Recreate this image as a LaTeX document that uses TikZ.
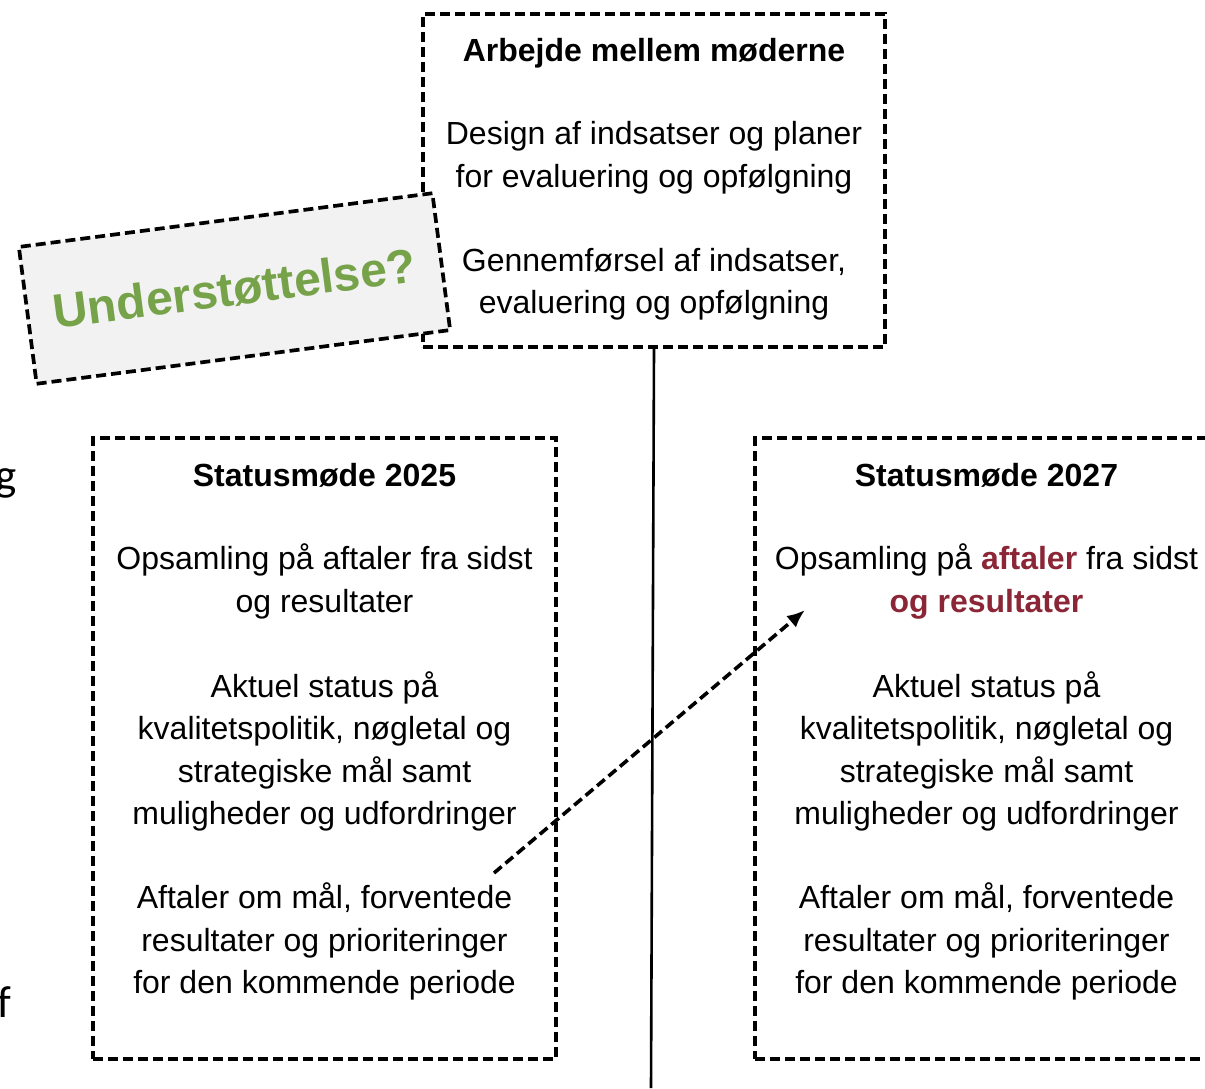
\documentclass[tikz,border=0pt]{standalone}
\usepackage{fontspec}
\setmainfont{Liberation Sans}
\newfontfamily\calibfont{Carlito}
\usetikzlibrary{arrows.meta}
\definecolor{accgreen}{HTML}{76A24A}
\definecolor{accred}{HTML}{8B2636}
\definecolor{boxgray}{HTML}{F2F2F2}
\begin{document}
\begin{tikzpicture}[x=1pt,y=-1pt,
  dbox/.style={draw=black,line width=3.7pt,dash pattern=on 10pt off 5pt,inner sep=0pt},
  txt/.style={font=\fontsize{32}{42.4}\selectfont,inner sep=0pt,anchor=base},
  cut/.style={font=\calibfont\fontsize{45}{50}\selectfont,inner sep=0pt,anchor=base east},
  link/.style={line width=2.6pt},
  dasharrow/.style={line width=3.6pt,dash pattern=on 10pt off 5pt,-{Latex[length=18pt,width=15pt]}}
]
\useasboundingbox (0,0) rectangle (1205,1088);

% boxes
\node[dbox,minimum width=462pt,minimum height=333pt] (topbox) at (654,180.5) {};
\node[dbox,minimum width=463pt,minimum height=621pt] (leftbox) at (324.5,748.5) {};
\node[dbox,minimum width=463pt,minimum height=621pt] (rightbox) at (986.5,748.5) {};

% vertical connector
\coordinate (lineend) at (651,1088);
\draw[link] (topbox.south) -- (lineend);

% top box text
\foreach \yy/\tt [count=\i] in {
  61/{\textbf{Arbejde mellem møderne}},
  144/{Design af indsatser og planer},
  187/{for evaluering og opfølgning},
  271/{Gennemførsel af indsatser,},
  313/{evaluering og opfølgning}}
  \node[txt] (top\i) at (654,\yy) {\tt};

% left box text
\foreach \yy/\tt [count=\i] in {
  486/{\textbf{Statusmøde 2025}},
  569/{Opsamling på aftaler fra sidst},
  612/{og resultater},
  697/{Aktuel status på},
  739/{kvalitetspolitik, nøgletal og},
  782/{strategiske mål samt},
  824/{muligheder og udfordringer},
  908/{Aftaler om mål, forventede},
  951/{resultater og prioriteringer},
  993/{for den kommende periode}}
  \node[txt] (left\i) at (324.5,\yy) {\tt};

% right box text
\foreach \yy/\tt [count=\i] in {
  486/{\textbf{Statusmøde 2027}},
  569/{Opsamling på \textcolor{accred}{\textbf{aftaler}} fra sidst},
  612/{\textcolor{accred}{\textbf{og resultater}}},
  697/{Aktuel status på},
  739/{kvalitetspolitik, nøgletal og},
  782/{strategiske mål samt},
  824/{muligheder og udfordringer},
  908/{Aftaler om mål, forventede},
  951/{resultater og prioriteringer},
  993/{for den kommende periode}}
  \node[txt] (right\i) at (986.5,\yy) {\tt};

% cut-off letters at the left edge
\node[cut] (cutg) at (17,490) {g};
\node[cut] (cutf) at (11,1017) {f};

% rotated support box
\node[dbox,fill=boxgray,minimum width=417pt,minimum height=138pt,rotate=7.4,
      font=\bfseries\fontsize{48}{52}\selectfont,text=accgreen] (support) at (234.5,288.5) {Understøttelse?};

% dashed arrow
\coordinate (arrowstart) at (494,873);
\coordinate (arrowend) at (805,610);
\draw[dasharrow] (arrowstart) -- (arrowend);
\end{tikzpicture}
\end{document}
